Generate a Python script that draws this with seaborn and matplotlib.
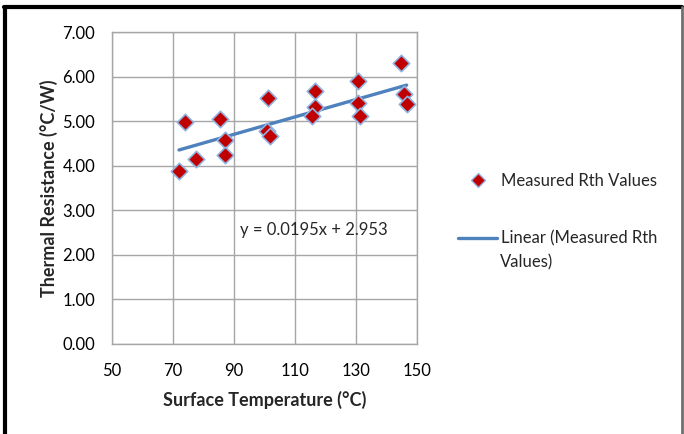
import numpy as np
import pandas as pd
import matplotlib
matplotlib.use("Agg")
import matplotlib.pyplot as plt
from matplotlib.lines import Line2D
import seaborn as sns

surface_temp = [72.0, 74.0, 77.7, 85.5, 87.1, 87.2, 101.2, 100.9, 101.8,
                116.6, 116.6, 115.8, 130.9, 130.9, 131.5, 144.9, 145.8, 146.7]
rth_values = [3.89, 4.99, 4.16, 5.05, 4.57, 4.25, 5.53, 4.79, 4.67,
              5.68, 5.33, 5.11, 5.91, 5.42, 5.12, 6.30, 5.61, 5.38]

# 추세선 계수 (그림의 식)
slope = 0.0195
intercept = 2.953

x_ticks = [50, 70, 90, 110, 130, 150]
y_ticks = [0, 1, 2, 3, 4, 5, 6, 7]

df = pd.DataFrame({"temp": surface_temp, "rth": rth_values})
trend_x = np.array([min(surface_temp), max(surface_temp)])
trend = pd.DataFrame({"temp": trend_x, "rth": slope * trend_x + intercept})

sns.set_style("white")
plt.rcParams["font.family"] = ["Lato", "DejaVu Sans"]

fig = plt.figure(figsize=(6.84, 4.34), dpi=100)
ax = fig.add_axes([0.1637, 0.2074, 0.4455, 0.7182])

blue = "#4F81BD"
red = "#C00000"
edge = "#8FB4E3"

sns.lineplot(data=trend, x="temp", y="rth", ax=ax, color=blue, linewidth=2.4, zorder=2)
sns.scatterplot(data=df, x="temp", y="rth", ax=ax, marker="D", s=70,
                color=red, edgecolor=edge, linewidth=1.2, zorder=3)

ax.set_xlim(50, 150)
ax.set_ylim(0, 7)
ax.set_xticks(x_ticks)
ax.set_yticks(y_ticks)
ax.set_yticklabels([f"{v:.2f}" for v in y_ticks])
ax.grid(True, color="#A6A6A6", linewidth=1)
ax.set_axisbelow(True)
for s in ax.spines.values():
    s.set_color("#A6A6A6")
    s.set_linewidth(1)
ax.tick_params(axis="y", length=0, labelsize=12, pad=12, colors="black")
ax.tick_params(axis="x", length=0, labelsize=12, pad=14, colors="black")

ax.set_xlabel("Surface Temperature (°C)", fontsize=13, fontweight="bold", labelpad=8)
ax.set_ylabel("Thermal Resistance (°C/W)", fontsize=13, fontweight="bold", labelpad=3)

ax.text(92, 2.56, "y = 0.0195x + 2.953", fontsize=12, va="center", ha="left")

handles = [
    Line2D([], [], marker="D", color="none", markerfacecolor=red,
           markeredgecolor=edge, markersize=7),
    Line2D([], [], color=blue, linewidth=2.4),
]
fig.legend(handles, ["Measured Rth Values", "Linear (Measured Rth"],
           loc="upper left", bbox_to_anchor=(0.660, 0.6175), frameon=False,
           fontsize=12, handlelength=2.35, handletextpad=0.2, labelspacing=2.5,
           borderaxespad=0)
fig.text(500 / 684, 1 - 262 / 434, "Values)", fontsize=12, va="center", ha="left")

# 바깥 테두리
fig.add_artist(Line2D([0.006, 0.997], [0.985, 0.985], color="black", linewidth=3))
fig.add_artist(Line2D([0.007, 0.007], [0.0, 0.985], color="black", linewidth=3))
fig.add_artist(Line2D([0.997, 0.997], [0.0, 0.985], color="#707070", linewidth=2))

fig.savefig("out.png", dpi=100)
